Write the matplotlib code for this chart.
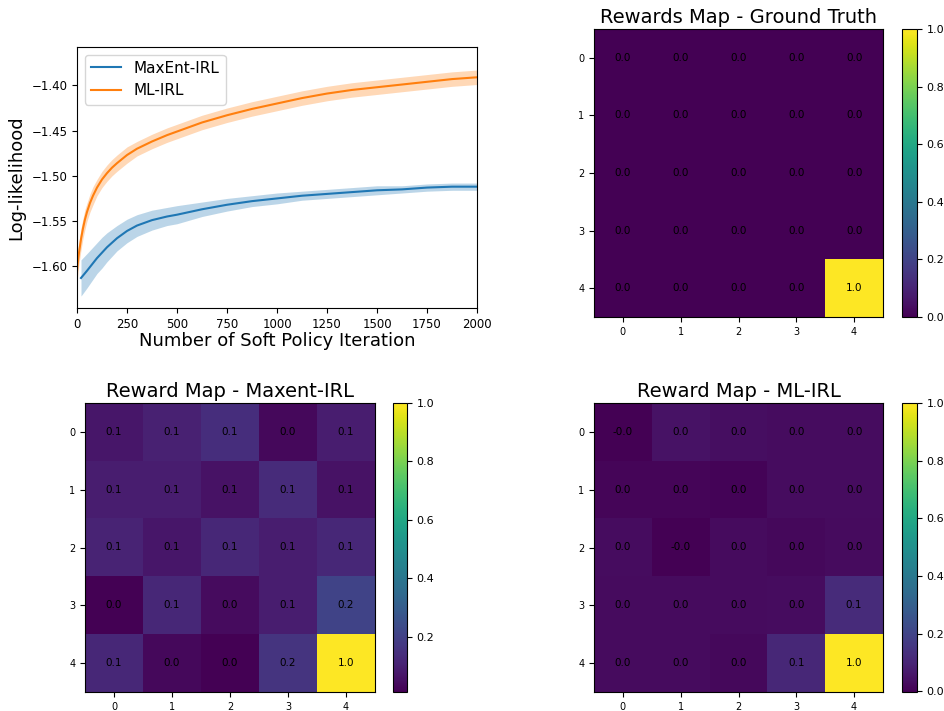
import numpy as np
import matplotlib
matplotlib.use('Agg')
import matplotlib.pyplot as plt

# ---- learning curves ----
iters = [0, 5, 10, 20, 30, 40, 50, 65, 80, 100, 125, 150, 175, 200, 250, 300, 375,
         450, 500, 625, 750, 875, 1000, 1125, 1250, 1375, 1500, 1625, 1750, 1875, 2000]
ml_mean = [-1.605, -1.594, -1.585, -1.570, -1.558, -1.548, -1.540, -1.530, -1.522,
           -1.513, -1.504, -1.497, -1.491, -1.486, -1.477, -1.470, -1.462, -1.455,
           -1.451, -1.441, -1.433, -1.426, -1.420, -1.414, -1.409, -1.405, -1.402,
           -1.399, -1.396, -1.393, -1.391]
ml_std = [0.013, 0.013, 0.012, 0.012, 0.011, 0.011, 0.010, 0.010, 0.010, 0.009,
          0.009, 0.009, 0.009, 0.009, 0.009, 0.008, 0.008, 0.008, 0.008, 0.008,
          0.008, 0.008, 0.008, 0.008, 0.008, 0.008, 0.008, 0.008, 0.008, 0.008, 0.008]

me_iters = [20, 50, 75, 100, 125, 150, 175, 200, 250, 300, 375, 450, 500, 625, 750,
            875, 1000, 1125, 1250, 1375, 1500, 1625, 1750, 1875, 2000]
me_mean = [-1.613, -1.605, -1.598, -1.591, -1.585, -1.579, -1.574, -1.569, -1.561,
           -1.555, -1.549, -1.545, -1.543, -1.537, -1.532, -1.528, -1.525, -1.522,
           -1.520, -1.518, -1.516, -1.515, -1.513, -1.512, -1.512]
me_std = [0.020, 0.019, 0.018, 0.017, 0.017, 0.016, 0.015, 0.014, 0.013, 0.012,
          0.011, 0.010, 0.010, 0.008, 0.007, 0.006, 0.006, 0.005, 0.005, 0.005,
          0.005, 0.004, 0.004, 0.004, 0.004]

# ---- reward maps ----
reward_gt = np.array([
    [0.0, 0.0, 0.0, 0.0, 0.0],
    [0.0, 0.0, 0.0, 0.0, 0.0],
    [0.0, 0.0, 0.0, 0.0, 0.0],
    [0.0, 0.0, 0.0, 0.0, 0.0],
    [0.0, 0.0, 0.0, 0.0, 1.0],
])
reward_maxent = np.array([
    [0.07, 0.10, 0.14, 0.03, 0.09],
    [0.09, 0.09, 0.06, 0.13, 0.06],
    [0.11, 0.07, 0.12, 0.09, 0.12],
    [0.01, 0.12, 0.04, 0.09, 0.21],
    [0.12, 0.03, 0.01, 0.16, 1.00],
])
reward_ml = np.array([
    [-0.003, 0.045, 0.035, 0.032, 0.030],
    [0.010, 0.010, 0.005, 0.032, 0.030],
    [0.030, -0.002, 0.025, 0.020, 0.025],
    [0.025, 0.025, 0.025, 0.030, 0.120],
    [0.025, 0.025, 0.020, 0.110, 1.000],
])

W, H = 944, 711
fig = plt.figure(figsize=(W / 100, H / 100), dpi=100)


def px_axes(left, top, right, bottom):
    return fig.add_axes([left / W, 1 - bottom / H, (right - left) / W, (bottom - top) / H])


# line plot
ax = px_axes(77, 47, 477, 308)
ax.plot(me_iters, me_mean, color='#1f77b4', linewidth=1.5, label='MaxEnt-IRL')
ax.fill_between(me_iters, np.array(me_mean) - np.array(me_std),
                np.array(me_mean) + np.array(me_std), color='#1f77b4', alpha=0.3, linewidth=0)
ax.plot(iters, ml_mean, color='#ff7f0e', linewidth=1.5, label='ML-IRL')
ax.fill_between(iters, np.array(ml_mean) - np.array(ml_std),
                np.array(ml_mean) + np.array(ml_std), color='#ff7f0e', alpha=0.3, linewidth=0)
ax.set_xlim(0, 2000)
ax.set_ylim(-1.6462, -1.3575)
ax.set_xticks([0, 250, 500, 750, 1000, 1250, 1500, 1750, 2000])
ax.set_yticks([-1.60, -1.55, -1.50, -1.45, -1.40])
ax.tick_params(labelsize=8.5)
ax.set_xlabel('Number of Soft Policy Iteration', fontsize=13, labelpad=1)
ax.set_ylabel('Log-likelihood', fontsize=13)
ax.legend(loc='upper left', fontsize=11)


def reward_map(box, cbox, data, title):
    axh = px_axes(*box)
    im = axh.imshow(data, cmap='viridis', aspect='auto')
    for i in range(data.shape[0]):
        for j in range(data.shape[1]):
            axh.text(j, i, f'{data[i, j]:.1f}', ha='center', va='center',
                     color='black', fontsize=7.5)
    axh.set_xticks(range(5))
    axh.set_yticks(range(5))
    axh.tick_params(labelsize=7)
    axh.set_title(title, fontsize=14, pad=4)
    cax = px_axes(*cbox)
    cb = fig.colorbar(im, cax=cax)
    cb.ax.tick_params(labelsize=8)


reward_map((594, 29, 883, 317), (902, 29, 917, 317), reward_gt, 'Rewards Map - Ground Truth')
reward_map((85, 403, 375, 692), (393, 403, 407, 692), reward_maxent, 'Reward Map - Maxent-IRL')
reward_map((594, 403, 883, 692), (902, 403, 917, 692), reward_ml, 'Reward Map - ML-IRL')

fig.savefig('out.png', dpi=100)
